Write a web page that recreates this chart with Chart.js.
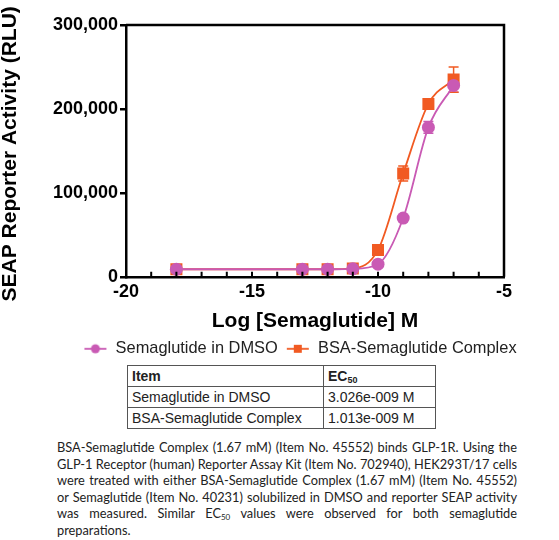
<!DOCTYPE html>
<html>
<head>
<meta charset="utf-8">
<script src="https://cdn.jsdelivr.net/npm/chart.js@4.4.0/dist/chart.umd.min.js"></script>
<style>
  html, body { margin: 0; padding: 0; background: #fff; overflow: hidden; }
  #wrap { position: relative; width: 559px; height: 540px; overflow: hidden; }
  #chartBox { position: absolute; left: 0; top: 0; width: 600px; height: 371px; }
  table.ec {
    position: absolute; left: 127px; top: 365px; width: 309px;
    border-collapse: collapse; font-family: "Liberation Sans", Arial, sans-serif;
    font-size: 14px; color: #222; background: #fff;
  }
  table.ec td { border: 1px solid #555; height: 20px; padding: 0 4px; line-height: 20px; white-space: nowrap; }
  table.ec td.c1 { width: 187px; }
  table.ec tr.h td { font-weight: bold; }
  table.ec sub { font-size: 9px; vertical-align: -2px; line-height: 0; }
  .cap {
    position: absolute; left: 57px; top: 439px; width: 460px;
    font-family: Lato, "Open Sans", sans-serif; font-size: 12.8px; line-height: 16.6px;
    text-align: justify; color: #222;
  }
  .cap sub { font-size: 8px; vertical-align: -2px; line-height: 0; }
</style>
</head>
<body>
<div id="wrap">
  <div id="chartBox"><canvas id="c" width="600" height="371"></canvas></div>
  <table class="ec">
    <tr class="h"><td class="c1">Item</td><td>EC<sub>50</sub></td></tr>
    <tr><td class="c1">Semaglutide in DMSO</td><td>3.026e-009 M</td></tr>
    <tr><td class="c1">BSA-Semaglutide Complex</td><td>1.013e-009 M</td></tr>
  </table>
  <div class="cap">BSA-Semaglutide Complex (1.67 mM) (Item No. 45552) binds GLP-1R. Using the GLP-1 Receptor (human) Reporter Assay Kit (Item No. 702940), HEK293T/17 cells were treated with either BSA-Semaglutide Complex (1.67 mM) (Item No. 45552) or Semaglutide (Item No. 40231) solubilized in DMSO and reporter SEAP activity was measured. Similar EC<sub>50</sub> values were observed for both semaglutide preparations.</div>
</div>
<script>
// ---- data ----
const logConc   = [-18, -13, -12, -11, -10, -9, -8, -7];
const semaVals  = [9000, 9000, 9000, 9500, 15000, 70000, 178000, 228000];
const semaErr   = [0, 0, 0, 0, 1000, 2000, 7000, 8000];
const bsaVals   = [9000, 9000, 9000, 10000, 32000, 123000, 206000, 235000];
const bsaErr    = [0, 0, 0, 0, 2000, 9000, 3000, 15000];
const seriesNames = ['Semaglutide in DMSO', 'BSA-Semaglutide Complex'];
const xTicks = [-20, -15, -10, -5];
const yTicks = [0, 100000, 200000, 300000];

const MAG = '#C95AB4';
const ORA = '#F15A22';
const FONT = '"Liberation Sans", Arial, sans-serif';

function legendIcon(color, shape) {
  const cv = document.createElement('canvas');
  cv.width = 24; cv.height = 12;
  const g = cv.getContext('2d');
  g.strokeStyle = color; g.lineWidth = 1.8;
  g.beginPath(); g.moveTo(1, 6); g.lineTo(23, 6); g.stroke();
  g.fillStyle = color;
  if (shape === 'circle') { g.beginPath(); g.arc(12, 6, 4.5, 0, Math.PI * 2); g.fill(); }
  else { g.fillRect(8, 2, 8, 8); }
  return cv;
}
const icons = [legendIcon(MAG, 'circle'), legendIcon(ORA, 'rect')];

const errorBars = {
  id: 'errorBars',
  beforeDatasetsDraw(chart) {
    const ctx = chart.ctx, xs = chart.scales.x, ys = chart.scales.y;
    const sets = [[semaVals, semaErr, MAG], [bsaVals, bsaErr, ORA]];
    ctx.save();
    sets.forEach(([vals, errs, col]) => {
      ctx.strokeStyle = col; ctx.lineWidth = 1.5;
      logConc.forEach((xv, i) => {
        if (!errs[i]) return;
        const px = xs.getPixelForValue(xv);
        const yt = ys.getPixelForValue(vals[i] + errs[i]);
        const yb = ys.getPixelForValue(vals[i] - errs[i]);
        ctx.beginPath();
        ctx.moveTo(px, yt); ctx.lineTo(px, yb);
        ctx.moveTo(px - 5, yt); ctx.lineTo(px + 5, yt);
        ctx.moveTo(px - 5, yb); ctx.lineTo(px + 5, yb);
        ctx.stroke();
      });
    });
    ctx.restore();
  }
};

const frame = {
  id: 'frame',
  afterDraw(chart) {
    const ctx = chart.ctx, a = chart.chartArea, xs = chart.scales.x;
    ctx.save();
    ctx.strokeStyle = '#000'; ctx.lineWidth = 2.5;
    ctx.beginPath();
    ctx.moveTo(a.left, a.top); ctx.lineTo(a.right, a.top); ctx.lineTo(a.right, a.bottom);
    ctx.stroke();
    ctx.lineWidth = 2;
    ctx.beginPath();
    for (let v = xs.min + 1; v < xs.max; v++) {
      const px = xs.getPixelForValue(v);
      ctx.moveTo(px, a.bottom); ctx.lineTo(px, a.bottom - 5);
    }
    ctx.stroke();
    ctx.restore();
  }
};

new Chart(document.getElementById('c'), {
  type: 'line',
  data: {
    datasets: [
      {
        label: seriesNames[0],
        data: logConc.map((x, i) => ({ x, y: semaVals[i] })),
        borderColor: MAG, backgroundColor: MAG, borderWidth: 1.8,
        pointStyle: 'circle', pointRadius: 6.5, pointBorderWidth: 0,
        cubicInterpolationMode: 'monotone'
      },
      {
        label: seriesNames[1],
        data: logConc.map((x, i) => ({ x, y: bsaVals[i] })),
        borderColor: ORA, backgroundColor: ORA, borderWidth: 1.8,
        pointStyle: 'rect', pointRadius: 8.5, pointBorderWidth: 0,
        cubicInterpolationMode: 'monotone'
      }
    ]
  },
  options: {
    responsive: false,
    animation: false,
    layout: { padding: { top: 25, left: 0, right: 0, bottom: 4 } },
    plugins: {
      tooltip: { enabled: false },
      legend: {
        position: 'bottom',
        labels: {
          usePointStyle: true,
          pointStyleWidth: 24,
          padding: 8,
          color: '#222',
          font: { family: FONT, size: 16.4 },
          generateLabels(chart) {
            return chart.data.datasets.map((ds, i) => ({
              text: ds.label, pointStyle: icons[i], datasetIndex: i,
              fillStyle: ds.backgroundColor, strokeStyle: ds.borderColor, lineWidth: 0,
              fontColor: '#222', hidden: false
            }));
          }
        }
      }
    },
    scales: {
      x: {
        type: 'linear', min: -20, max: -5,
        afterBuildTicks(s) { s.ticks = xTicks.map(v => ({ value: v })); },
        ticks: { color: '#000', font: { family: FONT, size: 18, weight: 'bold' }, padding: 4, maxRotation: 0 },
        grid: { display: false, drawTicks: false },
        border: { display: true, color: '#000', width: 2.5 },
        title: { display: true, text: 'Log [Semaglutide] M', color: '#000',
                 font: { family: FONT, size: 21, weight: 'bold' }, padding: { top: 2, bottom: -1 } }
      },
      y: {
        type: 'linear', min: 0, max: 300000,
        afterBuildTicks(s) { s.ticks = yTicks.map(v => ({ value: v })); },
        afterFit(s) { s.width = 126; },
        ticks: { color: '#000', font: { family: FONT, size: 18, weight: 'bold' }, padding: 2,
                 callback: v => v.toLocaleString('en-US') },
        grid: { display: true, drawOnChartArea: false, drawTicks: true, tickLength: 6, color: '#000', lineWidth: 2.5 },
        border: { display: true, color: '#000', width: 2.5 },
        title: { display: true, text: 'SEAP Reporter Activity (RLU) ', color: '#000',
                 font: { family: FONT, size: 21, weight: 'bold' }, padding: { top: -2, bottom: 0 } }
      },
      yRight: {
        type: 'linear', position: 'right', display: true,
        afterFit(s) { s.width = 96; },
        ticks: { display: false },
        grid: { display: false, drawTicks: false },
        border: { display: false }
      }
    }
  },
  plugins: [errorBars, frame]
});
</script>
</body>
</html>
